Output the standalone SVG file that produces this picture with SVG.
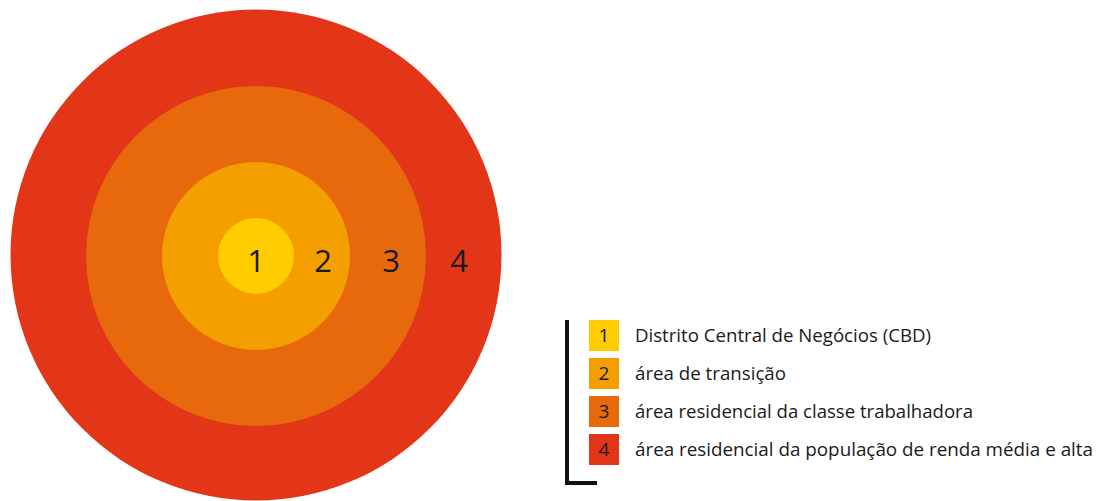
<svg xmlns="http://www.w3.org/2000/svg" width="1097" height="501" viewBox="0 0 1097 501">
<style>
.num{font-family:"Open Sans","Noto Sans",sans-serif;font-size:31px;fill:#1a1a1a;text-anchor:middle}
.lnum{font-family:"Open Sans","Noto Sans",sans-serif;font-size:19px;fill:#1a1a1a;text-anchor:middle}
.lt{font-family:"Open Sans","Noto Sans",sans-serif;font-size:19px;fill:#1a1a1a}
</style>
<rect width="1097" height="501" fill="#ffffff"/>
<g id="zone4"><circle cx="256" cy="255" r="245.5" fill="#E33618"/></g>
<g id="zone3"><circle cx="256" cy="256" r="170" fill="#E8690C"/></g>
<g id="zone2"><circle cx="256" cy="256" r="94" fill="#F49E00"/></g>
<g id="zone1"><circle cx="256" cy="256" r="38" fill="#FFCC00"/></g>
<g id="labels">
<text class="num" x="256" y="272">1</text>
<text class="num" x="323" y="272">2</text>
<text class="num" x="391" y="272">3</text>
<text class="num" x="459" y="272">4</text>
</g>
<g id="legend">
<path d="M567 320 V483 H597" fill="none" stroke="#111" stroke-width="4"/>
<g id="leg1"><rect x="589" y="320" width="30" height="31" fill="#FFCC00"/><text class="lnum" x="604" y="342">1</text><text class="lt" x="635" y="342" textLength="296" lengthAdjust="spacingAndGlyphs">Distrito Central de Negócios (CBD)</text></g>
<g id="leg2"><rect x="589" y="358" width="30" height="31" fill="#F49E00"/><text class="lnum" x="604" y="380">2</text><text class="lt" x="635" y="380" textLength="151" lengthAdjust="spacingAndGlyphs">área de transição</text></g>
<g id="leg3"><rect x="589" y="396" width="30" height="31" fill="#E8690C"/><text class="lnum" x="604" y="418">3</text><text class="lt" x="635" y="418" textLength="338" lengthAdjust="spacingAndGlyphs">área residencial da classe trabalhadora</text></g>
<g id="leg4"><rect x="589" y="434" width="30" height="31" fill="#E33618"/><text class="lnum" x="604" y="456">4</text><text class="lt" x="635" y="456" textLength="458" lengthAdjust="spacingAndGlyphs">área residencial da população de renda média e alta</text></g>
</g>
</svg>
